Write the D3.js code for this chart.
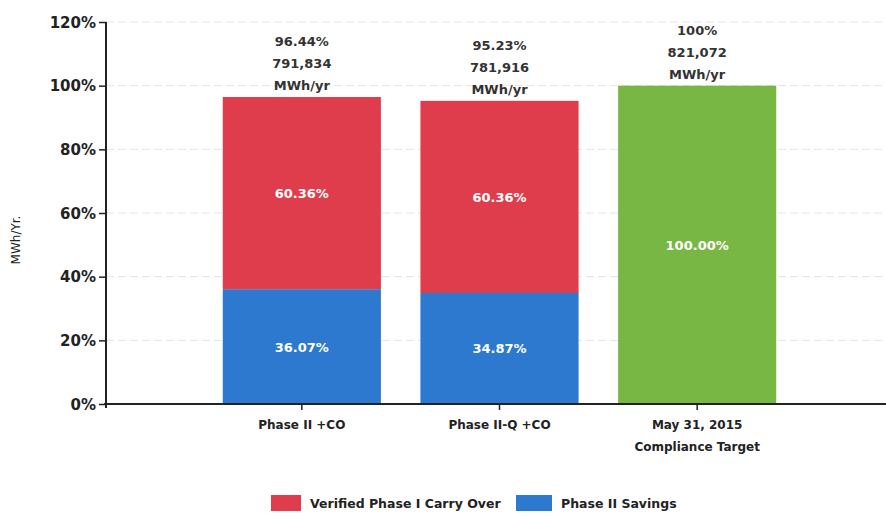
<!DOCTYPE html>
<meta charset="utf-8">
<style>
body { margin: 0; background: #fff; font-family: 'DejaVu Sans', sans-serif; }
svg { display: block; }
.grid line { stroke: #e4e4e4; stroke-dasharray: 8,4; }
.ytick { font-size: 15px; font-weight: bold; fill: #222; }
.xlab { font-size: 12px; font-weight: bold; fill: #222; }
.top { font-size: 13px; font-weight: bold; fill: #333; }
.inner { font-size: 13px; font-weight: bold; fill: #fff; }
.legend { font-size: 12.5px; font-weight: bold; fill: #222; }
</style>
<body>
<div id='chart'></div>
<script src="https://cdn.jsdelivr.net/npm/d3@7"></script>
<script>
var categories = ['Phase II +CO', 'Phase II-Q +CO', 'May 31, 2015|Compliance Target']
var savings = [36.07, 34.87, 0]
var carryOver = [60.36, 60.36, 0]
var target = [0, 0, 100]
var totalPct = ['96.44%', '95.23%', '100%']
var totalMWh = ['791,834', '781,916', '821,072']
var yTicks = [0, 20, 40, 60, 80, 100, 120]
var legendNames = ['Verified Phase I Carry Over', 'Phase II Savings']

var red = '#df3d4b', blue = '#2d79d0', green = '#79b744'

var svg = d3.select('#chart').append('svg')
  .attr('width', 886).attr('height', 513)

var y = d3.scaleLinear().domain([0, 120]).range([404, 22])
var x = d3.scaleBand().domain(categories).range([203, 796])
  .paddingInner(0.2).paddingOuter(0.1)

// gridlines
svg.append('g').attr('class', 'grid')
  .selectAll('line').data(yTicks.slice(1)).enter().append('line')
  .attr('x1', 106).attr('x2', 886)
  .attr('y1', function(d){ return y(d) }).attr('y2', function(d){ return y(d) })

// bars
function seg(vals, base, color) {
  svg.append('g').selectAll('rect').data(categories).enter().append('rect')
    .attr('x', function(d){ return x(d) })
    .attr('width', x.bandwidth())
    .attr('y', function(d, i){ return y(base[i] + vals[i]) })
    .attr('height', function(d, i){ return y(base[i]) - y(base[i] + vals[i]) })
    .attr('fill', color)
  svg.append('g').selectAll('text').data(categories).enter()
    .filter(function(d, i){ return vals[i] > 0 })
    .append('text').attr('class', 'inner')
    .attr('text-anchor', 'middle')
    .attr('x', function(d){ return x(d) + x.bandwidth()/2 })
    .attr('y', function(d){ var i = categories.indexOf(d); return y(base[i] + vals[i]/2) + 5 })
    .text(function(d){ var i = categories.indexOf(d); return vals[i].toFixed(2) + '%' })
}
seg(savings, [0, 0, 0], blue)
seg(carryOver, savings, red)
seg(target, [0, 0, 0], green)

// labels above bars
categories.forEach(function(c, i){
  var top = y(savings[i] + carryOver[i] + target[i])
  var lines = [totalPct[i], totalMWh[i], 'MWh/yr']
  lines.forEach(function(t, k){
    svg.append('text').attr('class', 'top')
      .attr('text-anchor', 'middle')
      .attr('x', x(c) + x.bandwidth()/2)
      .attr('y', top - 7 - (2 - k)*22)
      .text(t)
  })
})

// y axis
var yAxis = d3.axisLeft(y).tickValues(yTicks).tickSize(7)
  .tickFormat(function(d){ return d + '%' })
var ga = svg.append('g').attr('transform', 'translate(106,0)').call(yAxis)
ga.select('.domain').attr('stroke', '#222').attr('stroke-width', 2).attr('d', 'M0,22V408')
ga.selectAll('.tick line').attr('stroke', '#222').attr('stroke-width', 1.5)
ga.selectAll('.tick text').attr('class', 'ytick').attr('x', -10).attr('dy', '0.35em')
  .style('font-family', 'DejaVu Sans')

// x axis
svg.append('line').attr('x1', 104).attr('x2', 886).attr('y1', 404).attr('y2', 404)
  .attr('stroke', '#222').attr('stroke-width', 2)
categories.forEach(function(c){
  var cx = x(c) + x.bandwidth()/2
  svg.append('line').attr('x1', cx).attr('x2', cx).attr('y1', 404).attr('y2', 410)
    .attr('stroke', '#222').attr('stroke-width', 1.5)
  c.split('|').forEach(function(t, k){
    svg.append('text').attr('class', 'xlab').attr('text-anchor', 'middle')
      .attr('x', cx).attr('y', 429 + k*22).text(t)
  })
})

// y axis title
svg.append('text').attr('transform', 'translate(20,240) rotate(-90)')
  .attr('text-anchor', 'middle').attr('font-size', 12).attr('fill', '#222')
  .text('MWh/Yr.')

// legend
var lx = [271, 516], lw = [30, 36]
legendNames.forEach(function(n, i){
  svg.append('rect').attr('x', lx[i]).attr('y', 495).attr('width', lw[i]).attr('height', 16)
    .attr('fill', i == 0 ? red : blue)
  svg.append('text').attr('class', 'legend').attr('x', lx[i] + lw[i] + 9).attr('y', 508).text(n)
})
</script>
</body>
